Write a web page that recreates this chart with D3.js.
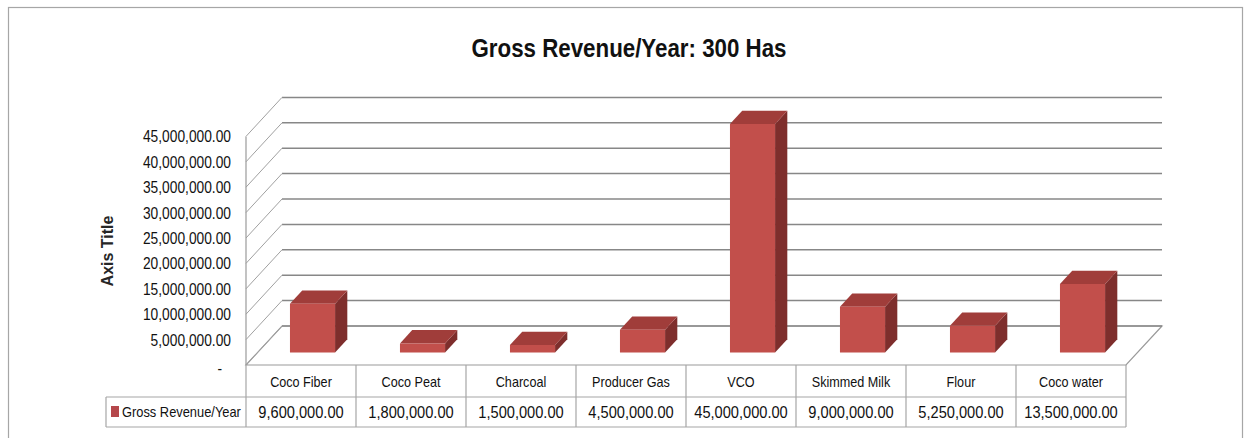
<!DOCTYPE html>
<html>
<head>
<meta charset="utf-8">
<script src="https://cdn.jsdelivr.net/npm/d3@7/dist/d3.min.js"></script>
<style>
  html, body { margin: 0; padding: 0; background: #fff; }
  svg { display: block; }
  text { font-family: "Liberation Sans", Arial, sans-serif; }
</style>
</head>
<body>
<svg id="chart" width="1249" height="438"></svg>
<script>
// Chart data
const categories = ["Coco Fiber", "Coco Peat", "Charcoal", "Producer Gas", "VCO", "Skimmed Milk", "Flour", "Coco water"];
const revenue = [9600000, 1800000, 1500000, 4500000, 45000000, 9000000, 5250000, 13500000];
const seriesName = "Gross Revenue/Year";
const tickValues = [0, 5000000, 10000000, 15000000, 20000000, 25000000, 30000000, 35000000, 40000000, 45000000];
const chartTitle = "Gross Revenue/Year: 300 Has";
const axisTitle = "Axis Title";

const svg = d3.select("#chart");

// narrow the glyphs horizontally to get a condensed face
function condense(sel, factor) {
  sel.each(function () {
    const w = this.getComputedTextLength();
    d3.select(this).attr("textLength", w * factor).attr("lengthAdjust", "spacingAndGlyphs");
  });
}

// Layout of the 3D plot: front plane plus a receding depth offset
const plotLeft = 246, plotRight = 1126;
const floorFront = 365;
const DX = 36, DY = 39;          // depth offset from front plane to back wall
const z0 = 0.32, z1 = 0.66;      // bar depth span (fraction of floor depth)

const x = d3.scaleBand().domain(categories).range([plotLeft, plotRight]).padding(0);
const y = d3.scaleLinear().domain([0, 45000000]).range([floorFront, floorFront - 228.6]);

// project a (front-plane x, value, depth) point to screen
const P = (xf, v, z) => [xf + z * DX, y(v) - z * DY];
const poly = pts => "M" + pts.map(p => p.join(",")).join("L") + "Z";

// chart frame
svg.append("rect")
  .attr("x", 8.5).attr("y", 7.5).attr("width", 1234).attr("height", 440)
  .attr("fill", "#fff").attr("stroke", "#a6a6a6").attr("stroke-width", 1.2);

// title
svg.append("text")
  .attr("x", 629).attr("y", 57)
  .attr("text-anchor", "middle")
  .attr("font-size", 26.5).attr("font-weight", "bold")
  .attr("fill", "#111")
  .attr("textLength", 315).attr("lengthAdjust", "spacingAndGlyphs")
  .text(chartTitle);

// floor
const gFloor = svg.append("g");
gFloor.append("path")
  .attr("d", poly([P(plotLeft, 0, 0), P(plotRight, 0, 0), P(plotRight, 0, 1), P(plotLeft, 0, 1)]))
  .attr("fill", "#fff").attr("stroke", "#9a9a9a").attr("stroke-width", 1.2);

// gridlines: back wall lines plus side-wall diagonals
const gGrid = svg.append("g");
tickValues.forEach(t => {
  const [bx0, by] = P(plotLeft, t, 1);
  const [bx1] = P(plotRight, t, 1);
  const [fx, fy] = P(plotLeft, t, 0);
  gGrid.append("line")
    .attr("x1", bx0).attr("y1", by).attr("x2", bx1).attr("y2", by)
    .attr("stroke", "#878787").attr("stroke-width", 1.5);
  gGrid.append("line")
    .attr("x1", fx).attr("y1", fy).attr("x2", bx0).attr("y2", by)
    .attr("stroke", "#a0a0a0").attr("stroke-width", 1);
});
// front vertical axis line
gGrid.append("line")
  .attr("x1", plotLeft).attr("x2", plotLeft)
  .attr("y1", y(45000000)).attr("y2", floorFront)
  .attr("stroke", "#9a9a9a").attr("stroke-width", 1.2);

// value axis labels (accounting style: zero shown as a dash)
const fmt = d3.format(",.2f");
const yAxis = d3.axisLeft(y)
  .tickValues(tickValues)
  .tickSize(0)
  .tickPadding(15)
  .tickFormat(d => d === 0 ? "-" : fmt(d));
const gAxis = svg.append("g")
  .attr("transform", `translate(${plotLeft},0)`)
  .call(yAxis);
gAxis.select(".domain").remove();
gAxis.attr("font-family", null).attr("font-size", null);
const tickText = gAxis.selectAll("text")
  .attr("font-size", 17)
  .attr("fill", "#111");
condense(tickText, 0.81);
tickText.filter(d => d === 0).attr("dx", -9).attr("dy", "0.5em");

// axis title
svg.append("text")
  .attr("transform", "translate(113,251) rotate(-90)")
  .attr("text-anchor", "middle")
  .attr("font-weight", "bold").attr("font-size", 16)
  .attr("fill", "#262626")
  .text(axisTitle);

// bars
const barW = x.bandwidth() * 0.41;
const gBars = svg.append("g");
categories.forEach((c, i) => {
  const v = revenue[i];
  const xl = x(c) + (x.bandwidth() - barW) / 2;
  const xr = xl + barW;
  const g = gBars.append("g");
  // right side
  g.append("path")
    .attr("d", poly([P(xr, 0, z0), P(xr, v, z0), P(xr, v, z1), P(xr, 0, z1)]))
    .attr("fill", "#7e2e2c");
  // top
  g.append("path")
    .attr("d", poly([P(xl, v, z0), P(xr, v, z0), P(xr, v, z1), P(xl, v, z1)]))
    .attr("fill", "#a03d3a");
  // front
  g.append("path")
    .attr("d", poly([P(xl, 0, z0), P(xr, 0, z0), P(xr, v, z0), P(xl, v, z0)]))
    .attr("fill", "#c24f4b");
});

// data table under the plot
const rowTop = floorFront, rowMid = 397, rowBot = 427, legendLeft = 106;
const gTable = svg.append("g");
const lineColor = "#a6a6a6";
const hLine = (x1, x2, yy) => gTable.append("line")
  .attr("x1", x1).attr("x2", x2).attr("y1", yy).attr("y2", yy)
  .attr("stroke", lineColor).attr("stroke-width", 1.2);
const vLine = (xx, y1, y2) => gTable.append("line")
  .attr("x1", xx).attr("x2", xx).attr("y1", y1).attr("y2", y2)
  .attr("stroke", lineColor).attr("stroke-width", 1.2);

hLine(legendLeft, plotRight, rowMid);
hLine(legendLeft, plotRight, rowBot);
vLine(legendLeft, rowMid, rowBot);
categories.forEach(c => vLine(x(c), rowTop, rowBot));
vLine(plotRight, rowTop, rowBot);

const catText = gTable.selectAll("text.cat")
  .data(categories)
  .join("text")
  .attr("class", "cat")
  .attr("x", d => x(d) + x.bandwidth() / 2)
  .attr("y", 387)
  .attr("text-anchor", "middle")
  .attr("font-size", 14.5)
  .attr("fill", "#111")
  .text(d => d);
condense(catText, 0.87);

const valText = gTable.selectAll("text.val")
  .data(revenue)
  .join("text")
  .attr("class", "val")
  .attr("x", (d, i) => x(categories[i]) + x.bandwidth() / 2)
  .attr("y", 418)
  .attr("text-anchor", "middle")
  .attr("font-size", 17)
  .attr("fill", "#111")
  .text(d => fmt(d));
condense(valText, 0.86);

// legend key in the table row header
gTable.append("rect")
  .attr("x", 111).attr("y", 406).attr("width", 8).attr("height", 11)
  .attr("fill", "#b5474b");
const legText = gTable.append("text")
  .attr("x", 122).attr("y", 417)
  .attr("font-size", 15)
  .attr("fill", "#111")
  .text(seriesName);
condense(legText, 0.857);
</script>
</body>
</html>
